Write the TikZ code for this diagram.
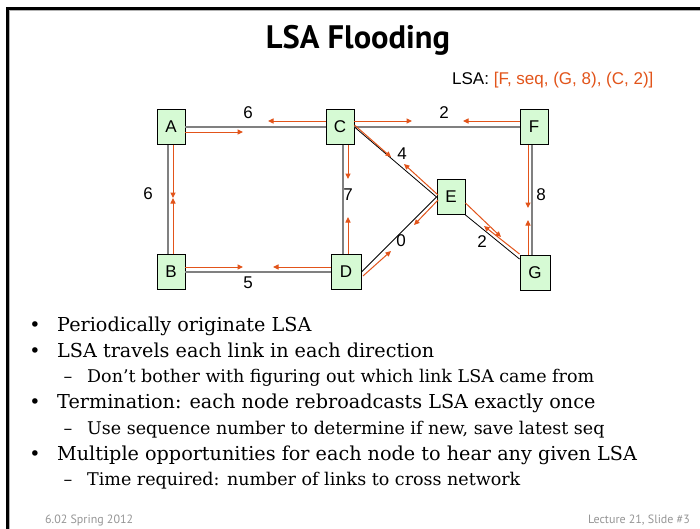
\documentclass[tikz,border=0pt]{standalone}
\usepackage{fontspec}
\setmainfont{DejaVu Serif}
\newfontfamily\arialf{Liberation Sans}
\newfontfamily\titlef{PT Sans}
\usetikzlibrary{arrows.meta}
\definecolor{lsaorange}{RGB}{226,84,26}
\definecolor{boxgreen}{RGB}{214,250,212}
\definecolor{edgegray}{RGB}{128,128,128}
\definecolor{footgray}{RGB}{150,150,150}
\begin{document}
\begin{tikzpicture}[x=1pt,y=-1pt,
  router/.style={draw=black,line width=0.9pt,fill=boxgreen,minimum width=28pt,minimum height=35pt,inner sep=0pt,font=\arialf\fontsize{17}{17}\selectfont},
  link/.style={draw=edgegray,line width=2pt},
  diag/.style={draw=black,line width=0.8pt},
  flood/.style={draw=lsaorange,line width=1pt,-{Triangle[length=5.5pt,width=5pt]}},
  wlabel/.style={font=\arialf\fontsize{17}{17}\selectfont,inner sep=0pt},
  bullmark/.style={anchor=base,inner sep=0pt,font=\fontsize{19}{19}\selectfont},
  bulltext/.style={anchor=base west,inner sep=0pt,font=\fontsize{19.2}{19}\selectfont},
  submark/.style={anchor=base,inner sep=0pt,font=\fontsize{17.5}{17}\selectfont},
  subtext/.style={anchor=base west,inner sep=0pt,font=\fontsize{17.5}{17}\selectfont},
  foot/.style={inner sep=0pt,text=footgray,font=\titlef\fontsize{12}{12}\selectfont},
]
\fill[white] (0,0) rectangle (700,528);
\useasboundingbox (0,0) rectangle (700,528);
% slide frame
\draw[black,line width=3pt] (7,530) -- (7,8) -- (702,8);
\draw[gray!60,line width=1pt] (9,530) -- (9,10.5) -- (702,10.5);

% title
\node[font=\titlef\bfseries\fontsize{32.5}{32}\selectfont] (title) at (358,40) {LSA Flooding};
\node[anchor=west,inner sep=0pt,font=\arialf\fontsize{17}{17}\selectfont] (lsa) at (452,80) {LSA: \textcolor{lsaorange}{[F, seq, (G, 8), (C, 2)]}};

% routers
\node[router] (A) at (171,127) {A};
\node[router] (C) at (340,127) {C};
\node[router] (F) at (534,127) {F};
\node[router] (E) at (451,197) {E};
\node[router] (B) at (171,272) {B};
\node[router,minimum width=30pt] (D) at (346,272) {D};
\node[router,minimum width=30pt] (G) at (535,273) {G};

% links
\draw[link] (A.east) -- (C.west);
\draw[link] (C.east) -- (F.west);
\draw[link] ([xshift=-3pt]A.south) -- ([xshift=-3pt]B.north);
\draw[link] (B.east) -- (D.west);
\draw[link] ([xshift=3pt]C.south) -- ([xshift=-3pt]D.north);
\draw[link] ([xshift=-2pt]F.south) -- ([xshift=-3pt]G.north);
\draw[diag] (C.east) -- (E.west);
\draw[diag] (D.east) -- (E.west);
\draw[diag] (E.south east) -- ([yshift=-4pt]G.north west);

% free ends of flooding arrows
\coordinate (acL) at (268,121);
\coordinate (acR) at (243,132);
\coordinate (cfR) at (412,121);
\coordinate (cfL) at (463,121);
\coordinate (abM) at (173,198);
\coordinate (bdR) at (243,267);
\coordinate (bdL) at (273,267);
\coordinate (cdT) at (348,179);
\coordinate (cdB) at (348,217);
\coordinate (fgT) at (528,208);
\coordinate (fgB) at (528,220);
\coordinate (ceA) at (391,157);
\coordinate (ceB) at (404,164);
\coordinate (deA) at (391,251);
\coordinate (deB) at (414,225);
\coordinate (egA) at (501,237);
\coordinate (egB) at (484,226);

% flooding arrows
\draw[flood] ([yshift=6pt]C.west) -- (acL);
\draw[flood] ([yshift=-5pt]A.east) -- (acR);
\draw[flood] ([yshift=6pt]C.east) -- (cfR);
\draw[flood] ([yshift=6pt]F.west) -- (cfL);
\draw[flood] ([xshift=2pt]A.south) -- (abM);
\draw[flood] ([xshift=2pt]B.north) -- (abM);
\draw[flood] ([yshift=5pt]B.east) -- (bdR);
\draw[flood] ([yshift=5pt]D.west) -- (bdL);
\draw[flood] ([xshift=8pt]C.south) -- (cdT);
\draw[flood] ([xshift=2pt]D.north) -- (cdB);
\draw[flood] ([xshift=-6pt]F.south) -- (fgT);
\draw[flood] ([xshift=-7pt]G.north) -- (fgB);
\draw[flood] ([yshift=2pt]C.east) -- (ceA);
\draw[flood] ([shift={(1.5pt,2pt)}]E.west) -- (ceB);
\draw[flood] ([shift={(1.5pt,-4pt)}]D.east) -- (deA);
\draw[flood] ([shift={(1.5pt,-3pt)}]E.west) -- (deB);
\draw[flood] ([yshift=-6pt]E.east) -- (egA);
\draw[flood] ([yshift=1pt]G.north west) -- (egB);

% link weights
\node[wlabel] (wAC) at (248,113) {6};
\node[wlabel] (wAB) at (148,194) {6};
\node[wlabel] (wBD) at (248,283) {5};
\node[wlabel] (wCD) at (348,195) {7};
\node[wlabel] (wCF) at (444,113) {2};
\node[wlabel] (wCE) at (402,154) {4};
\node[wlabel] (wFG) at (541,195) {8};
\node[wlabel] (wDE) at (401,241) {0};
\node[wlabel] (wEG) at (482,242) {2};

% bullets
\node[bullmark] (m1) at (35,331) {•};
\node[bulltext] (t1) at (57,331) {Periodically originate LSA};
\node[bullmark] (m2) at (35,357) {•};
\node[bulltext] (t2) at (57,357) {LSA travels each link in each direction};
\node[submark] (s1) at (68,382) {–};
\node[subtext] (u1) at (87,382) {Don’t bother with figuring out which link LSA came from};
\node[bullmark] (m3) at (35,408) {•};
\node[bulltext] (t3) at (57,408) {Termination: each node rebroadcasts LSA exactly once};
\node[submark] (s2) at (68,434) {–};
\node[subtext] (u2) at (87,434) {Use sequence number to determine if new, save latest seq};
\node[bullmark] (m4) at (35,460) {•};
\node[bulltext] (t4) at (57,460) {Multiple opportunities for each node to hear any given LSA};
\node[submark] (s3) at (68,485) {–};
\node[subtext] (u3) at (87,485) {Time required: number of links to cross network};

% footer
\node[foot,anchor=base west] (f1) at (45,523) {6.02 Spring 2012};
\node[foot,anchor=base east] (f2) at (690,523) {Lecture 21, Slide \#3};
\end{tikzpicture}
\end{document}
